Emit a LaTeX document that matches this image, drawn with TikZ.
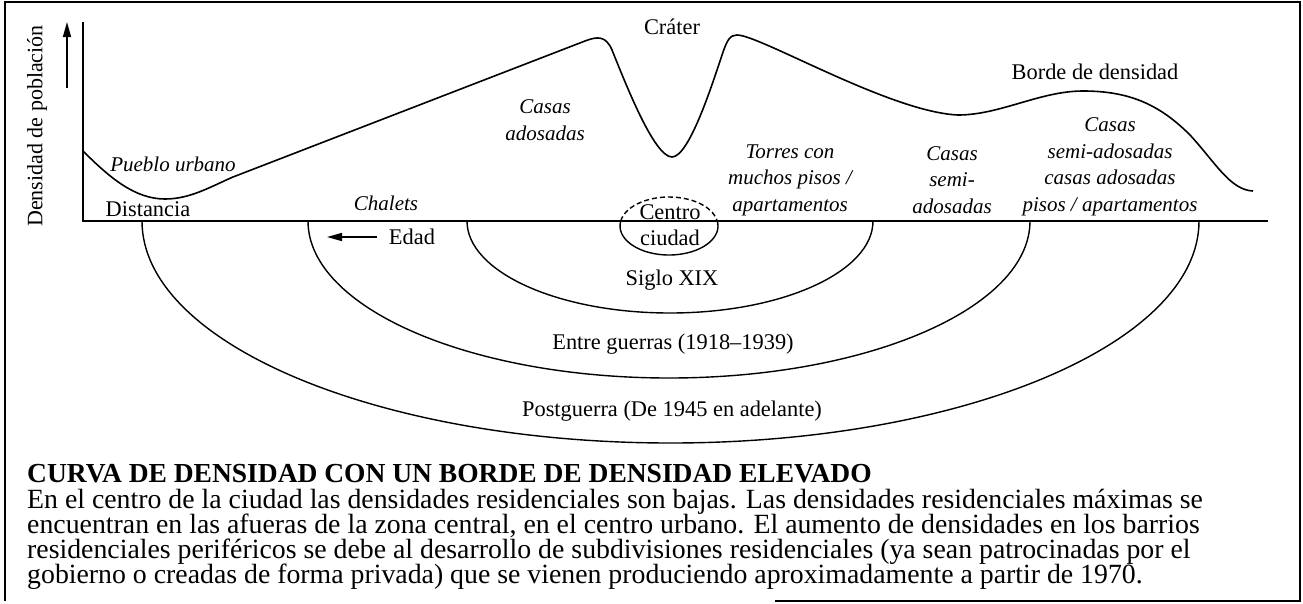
\documentclass[tikz,border=0pt]{standalone}
\usepackage{fontspec}
\setmainfont{Liberation Serif}
\usetikzlibrary{arrows.meta}
\newcommand\tightlead{\lineskiplimit=-100pt\relax}
\begin{document}
\begin{tikzpicture}[x=1pt,y=-1pt,
    lbl/.style={font=\fontsize{22.4}{26.5}\selectfont,align=center,inner sep=0pt},
    zone/.style={lbl,font=\fontsize{21}{26.5}\selectfont\itshape},
    curve/.style={line width=1.6pt},
    ring/.style={line width=1.4pt},
    tip/.style={-{Triangle[length=15pt,width=8pt]}}]
  \useasboundingbox (0,0) rectangle (1303,603);
  % frame
  \draw[line width=1.2pt] (775,601) -- (1300,601) -- (1300,2) -- (5,2) -- (5,601);
  % axes
  \coordinate (ytop) at (83,22);
  \coordinate (orig) at (83,221);
  \coordinate (xend) at (1268,221);
  \draw[curve] (ytop) -- (orig) -- (xend);
  \coordinate (upfrom) at (67,88);
  \coordinate (upto) at (67,22);
  \draw[curve,tip] (upfrom) -- (upto);
  \coordinate (agefrom) at (377,237);
  \coordinate (ageto) at (327,237);
  \draw[curve,tip] (agefrom) -- (ageto);
  % density curve
  \draw[curve] (83,151) .. controls (110,178) and (135,199) .. (165,199)
    .. controls (190,199) and (210,187) .. (233,177) -- (585,41)
    .. controls (598,36) and (606,36) .. (612,50)
    .. controls (625,82) and (654,157) .. (672,157)
    .. controls (689,157) and (712,85) .. (722,55)
    .. controls (727,40) and (730,35) .. (737,35)
    .. controls (760,35) and (890,112) .. (958,115)
    .. controls (1000,115) and (1040,91) .. (1083,91)
    .. controls (1130,91) and (1160,105) .. (1190,135)
    .. controls (1215,162) and (1230,190) .. (1253,191);
  % rings
  \begin{scope}[ring]
    \draw (467,221) arc[start angle=180,end angle=0,x radius=203,y radius=92];
    \draw (308,221) arc[start angle=180,end angle=0,x radius=361,y radius=157];
    \draw (142,221) arc[start angle=180,end angle=0,x radius=528.5,y radius=222];
    \draw[dash pattern=on 5pt off 3pt] (669,226) ++(190:49 and 29)
      arc[start angle=190,end angle=350,x radius=49,y radius=29];
    \draw (669,226) ++(-10:49 and 29)
      arc[start angle=-10,end angle=190,x radius=49,y radius=29];
  \end{scope}
  % labels
  \draw
    (37,126) node[lbl,font=\fontsize{22}{26}\selectfont,rotate=90] (dens){Densidad de población}
    (148,209) node[lbl] (dist){Distancia}
    (412,237) node[lbl] (edad){Edad}
    (672,27) node[lbl] (crater){Cráter}
    (1095,72) node[lbl] (borde){Borde de densidad}
    (670,225) node[lbl] (centro){Centro\\ciudad}
    (672,280) node[lbl] (xix){Siglo XIX}
    (673,344) node[lbl] (guerras){Entre guerras (1918–1939)}
    (672,411) node[lbl] (postg){Postguerra (De 1945 en adelante)};
  \draw
    (173,164) node[zone] (pueblo){Pueblo urbano}
    (386,203) node[zone] (chalets){Chalets}
    (545,120) node[zone] (adosadas){Casas\\adosadas}
    (790,180) node[zone] (torres){Torres con\\muchos pisos /\\apartamentos}
    (952,180) node[zone] (semi){Casas\\semi-\\adosadas}
    (1110,167) node[zone] (mixtas){Casas\\semi-adosadas\\casas adosadas\\pisos / apartamentos};
  % caption
  \node[anchor=base west,inner sep=0pt,font=\fontsize{27.5}{25}\selectfont\bfseries]
    (titulo) at (27,482) {CURVA DE DENSIDAD CON UN BORDE DE DENSIDAD ELEVADO};
  \node[anchor=base west,inner sep=0pt,align=left,
        font=\fontsize{27.8}{25}\selectfont\tightlead]
    (texto) at (27,583) {En el centro de la ciudad las densidades residenciales son bajas. Las densidades residenciales máximas se\\
    encuentran en las afueras de la zona central, en el centro urbano. El aumento de densidades en los barrios\\
    residenciales periféricos se debe al desarrollo de subdivisiones residenciales (ya sean patrocinadas por el\\
    gobierno o creadas de forma privada) que se vienen produciendo aproximadamente a partir de 1970.};
\end{tikzpicture}
\end{document}
